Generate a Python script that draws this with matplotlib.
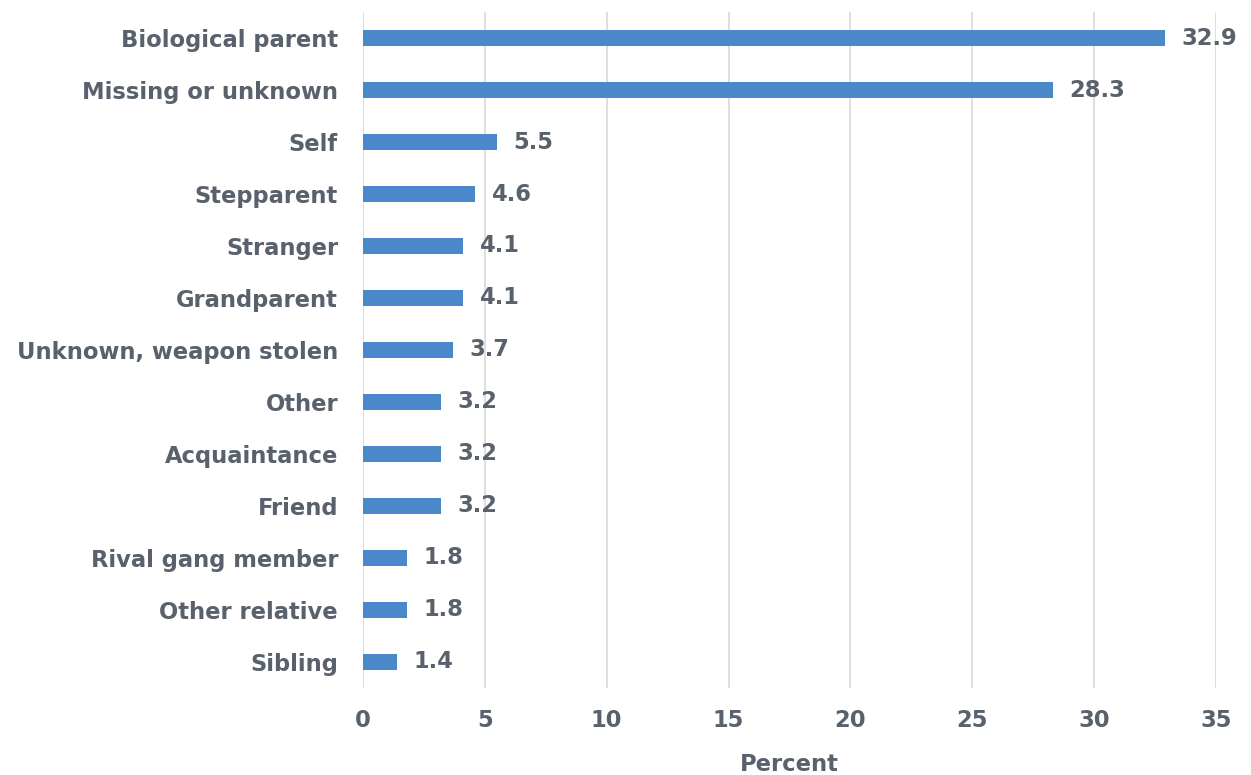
import matplotlib
matplotlib.use("Agg")
import matplotlib.pyplot as plt

categories = [
    "Biological parent", "Missing or unknown", "Self", "Stepparent", "Stranger",
    "Grandparent", "Unknown, weapon stolen", "Other", "Acquaintance", "Friend",
    "Rival gang member", "Other relative", "Sibling",
]
values = [32.9, 28.3, 5.5, 4.6, 4.1, 4.1, 3.7, 3.2, 3.2, 3.2, 1.8, 1.8, 1.4]
x_ticks = [0, 5, 10, 15, 20, 25, 30, 35]

text_color = "#59626c"
bar_color = "#4a89c9"
grid_color = "#d9d9d9"
fs = 16.3

plt.rcParams["font.family"] = ["DejaVu Sans"]

fig = plt.figure(figsize=(12.51, 7.75), dpi=100)
ax = fig.add_axes([0.2902, 0.1123, 0.6818, 0.8722])

pos = list(range(len(categories)))
ax.barh(pos, values, height=0.31, color=bar_color, zorder=3)
for y, v in zip(pos, values):
    ax.annotate(f"{v:.1f}", xy=(v, y), xytext=(12, 0), textcoords="offset points",
                va="center", ha="left", fontsize=fs, fontweight="bold",
                color=text_color, zorder=4)

ax.set_xlim(0, 35)
ax.set_ylim(len(categories) - 0.5, -0.5)
ax.set_yticks(pos)
ax.set_yticklabels(categories)
ax.set_xticks(x_ticks)
ax.set_xticklabels([str(t) for t in x_ticks])
ax.tick_params(axis="both", length=0, labelsize=fs, labelcolor=text_color)
ax.tick_params(axis="y", pad=18)
ax.tick_params(axis="x", pad=15)
for lbl in ax.get_xticklabels() + ax.get_yticklabels():
    lbl.set_fontweight("bold")

ax.grid(axis="x", color=grid_color, linewidth=1.2, zorder=0)
for s in ax.spines.values():
    s.set_visible(False)

ax.set_xlabel("Percent", fontsize=fs, fontweight="bold", color=text_color, labelpad=15)

fig.savefig("out.png", dpi=100, facecolor="white")
